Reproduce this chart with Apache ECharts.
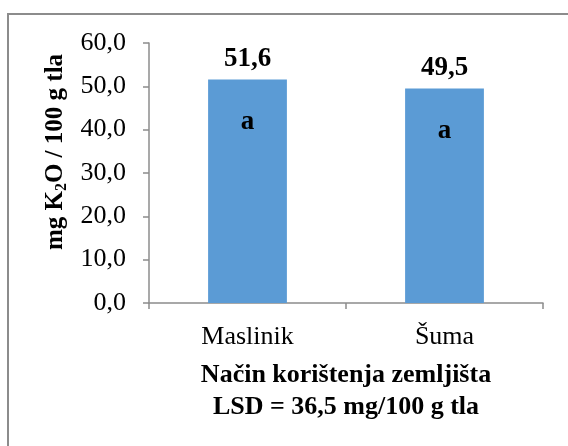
<!DOCTYPE html>
<html><head><meta charset="utf-8">
<script src="https://cdn.jsdelivr.net/npm/echarts@6/dist/echarts.min.js"></script>
<style>html,body{margin:0;padding:0;background:#fff}#c{width:568px;height:446px}</style>
</head><body><div id="c"></div>
<script>
const categories = ['Maslinik', 'Šuma'];
const values = [51.6, 49.5];
const letters = ['a', 'a'];
const yTicks = [0, 10, 20, 30, 40, 50, 60];

const fmt = v => v.toFixed(1).replace('.', ',');
const F = '"Liberation Serif", "Times New Roman", serif';
const chart = echarts.init(document.getElementById('c'));
chart.setOption({
  animation: false,
  backgroundColor: '#fff',
  graphic: [{type: 'rect', shape: {x: 8, y: 14, width: 620, height: 500}, style: {fill: 'none', stroke: '#8c8c8c', lineWidth: 2}}],
  grid: {left: 149, right: 25, top: 43, bottom: 143},
  xAxis: {
    type: 'category', data: categories,
    axisLine: {lineStyle: {color: '#8c8c8c', width: 1.5}},
    axisTick: {show: true, length: 6, lineStyle: {color: '#8c8c8c', width: 1.5}},
    axisLabel: {color: '#000', fontFamily: F, fontSize: 26, margin: 21},
    name: 'Način korištenja zemljišta\nLSD = 36,5 mg/100 g tla',
    nameLocation: 'middle', nameGap: 56,
    nameTextStyle: {color: '#000', fontFamily: F, fontSize: 26, fontWeight: 'bold', lineHeight: 32}
  },
  yAxis: {
    type: 'value', min: 0, max: 60, interval: 10,
    axisLine: {show: true, lineStyle: {color: '#8c8c8c', width: 1.5}},
    axisTick: {show: true, length: 6, lineStyle: {color: '#8c8c8c', width: 1.5}},
    splitLine: {show: false},
    axisLabel: {color: '#000', fontFamily: F, fontSize: 26, margin: 23, formatter: v => fmt(v)},
    name: '{b|mg K}{s|2}{b|O / 100 g tla}',
    nameLocation: 'middle', nameGap: 71, nameRotate: 90,
    nameTextStyle: {
      padding: [0, 0, 0, 42],
      rich: {
        b: {color: '#000', fontFamily: F, fontSize: 25, fontWeight: 'bold', lineHeight: 28},
        s: {color: '#000', fontFamily: F, fontSize: 16, fontWeight: 'bold', lineHeight: 28, padding: [12, 0, 0, 0]}
      }
    }
  },
  series: [
    {
      type: 'bar', data: values, barWidth: '40%',
      itemStyle: {color: '#5b9bd5'},
      label: {show: true, position: 'insideTop', distance: 29, formatter: p => letters[p.dataIndex],
        color: '#000', fontFamily: F, fontSize: 27, fontWeight: 'bold'}
    },
    {
      type: 'bar', data: values, barWidth: '40%', barGap: '-100%',
      itemStyle: {color: 'rgba(0,0,0,0)'},
      label: {show: true, position: 'top', distance: 7, formatter: p => fmt(p.value),
        color: '#000', fontFamily: F, fontSize: 27, fontWeight: 'bold'}
    }
  ]
});
</script></body></html>
